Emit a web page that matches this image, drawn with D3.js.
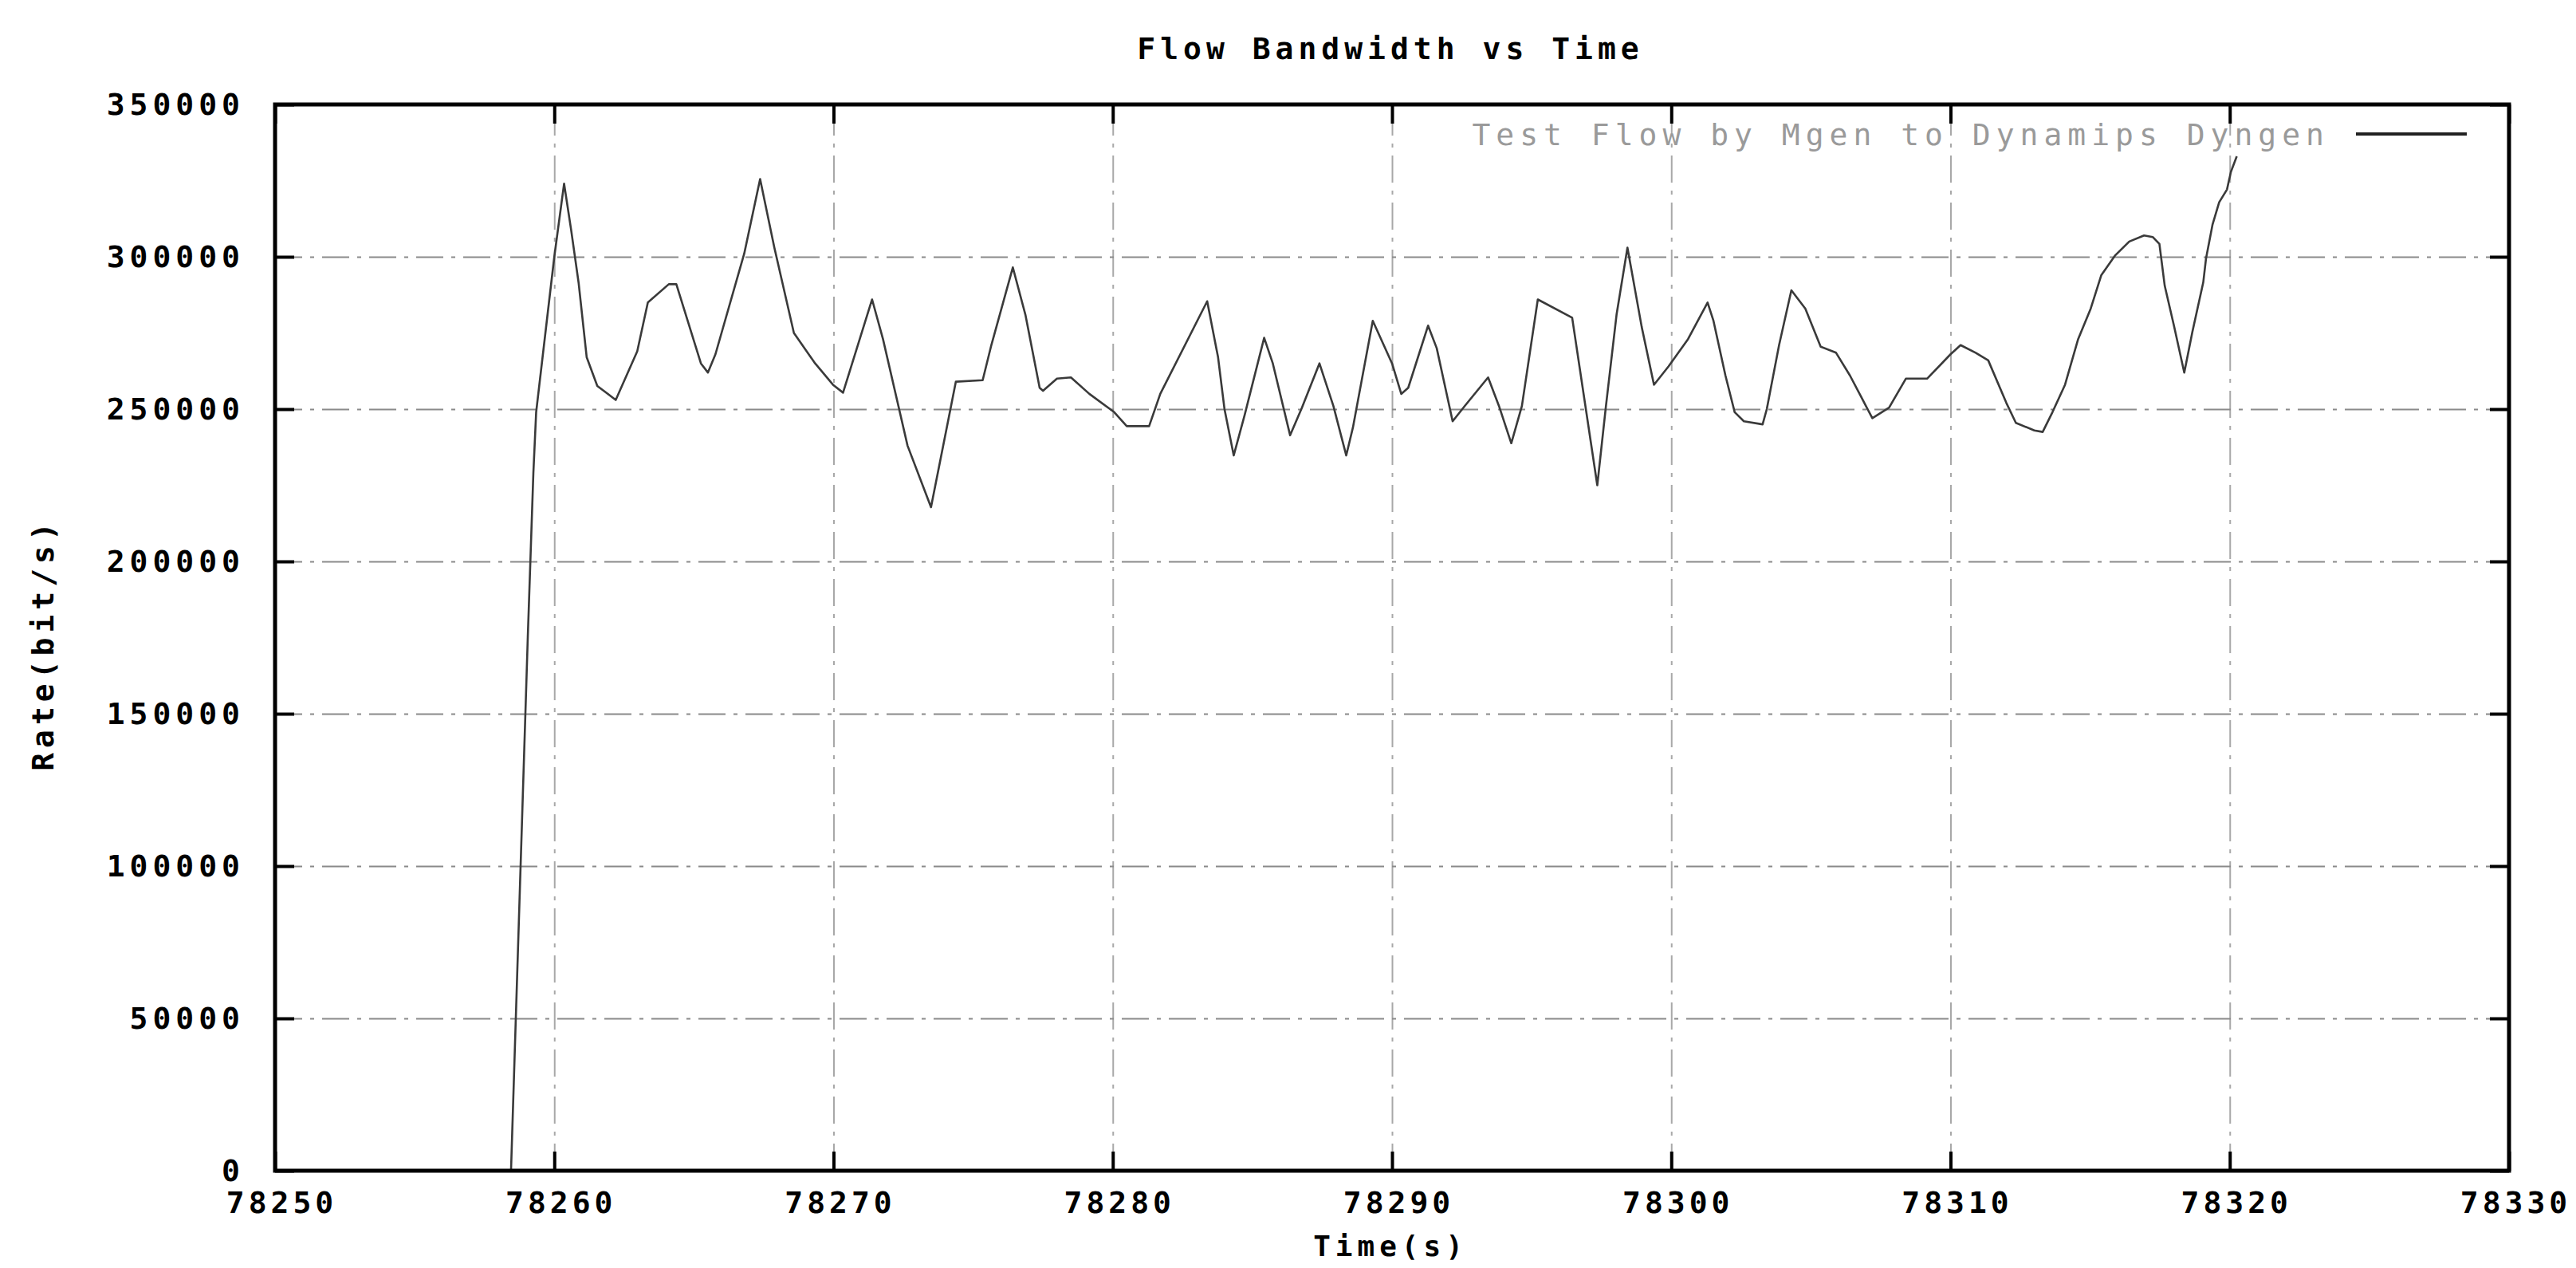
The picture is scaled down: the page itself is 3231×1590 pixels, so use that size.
<!DOCTYPE html>
<html><head><meta charset="utf-8">
<script src="https://cdn.jsdelivr.net/npm/d3@7"></script>
<style>
html,body{margin:0;padding:0;background:#fff;}
svg{display:block;background:#fff;}
</style></head><body>
<svg id="chart" width="3231" height="1590"></svg>
<script>
const title = "Flow Bandwidth vs Time";
const xLabel = "Time(s)";
const yLabel = "Rate(bit/s)";
const seriesName = "Test Flow by Mgen to Dynamips Dyngen";
const xTicks = [78250, 78260, 78270, 78280, 78290, 78300, 78310, 78320, 78330];
const yTicks = [0, 50000, 100000, 150000, 200000, 250000, 300000, 350000];
const times = [
  78258.45, 78259.05, 78259.25, 78259.35, 78259.77, 78260.0, 78260.35, 78260.6, 78260.87, 78261.16,
  78261.54, 78262.2, 78262.97, 78263.35, 78264.1, 78264.37, 78265.25, 78265.5, 78265.77, 78266.8,
  78267.37, 78267.88, 78268.58, 78269.34, 78269.98, 78270.34, 78271.38, 78271.77, 78272.65, 78273.49,
  78274.38, 78275.34, 78275.65, 78276.42, 78276.87, 78277.38, 78277.5, 78278.0, 78278.5, 78279.16,
  78280.05, 78280.5, 78281.3, 78281.7, 78283.38, 78283.77, 78284.0, 78284.33, 78284.72, 78285.42,
  78285.73, 78286.35, 78286.77, 78287.4, 78287.9, 78288.36, 78288.6, 78289.31, 78290.0, 78290.33,
  78290.58, 78291.29, 78291.6, 78292.17, 78292.6, 78293.44, 78293.83, 78294.27, 78294.65, 78295.22,
  78296.45, 78297.35, 78297.66, 78298.04, 78298.43, 78298.94, 78299.38, 78299.9, 78300.6, 78301.3,
  78301.51, 78301.94, 78302.27, 78302.6, 78303.27, 78303.42, 78303.86, 78304.3, 78304.8, 78305.35,
  78305.9, 78306.4, 78306.8, 78307.2, 78307.8, 78308.4, 78309.16, 78310.0, 78310.36, 78310.9,
  78311.35, 78312.0, 78312.34, 78313.0, 78313.3, 78313.65, 78314.1, 78314.57, 78315.02, 78315.4,
  78315.9, 78316.4, 78316.93, 78317.24, 78317.48, 78317.67, 78318.0, 78318.37, 78318.66, 78319.05,
  78319.15, 78319.38, 78319.62, 78319.9, 78320.04, 78320.25
];
const rates = [
  0, 175000, 229000, 249000, 282000, 300000, 324000, 309000, 291500, 267000,
  257600, 253000, 269000, 285000, 291000, 291000, 265000, 262000, 268000, 301000,
  325500, 303000, 275000, 265000, 258000, 255400, 286000, 273000, 238000, 217800,
  259000, 259500, 271000, 296500, 281000, 257000, 256000, 260000, 260400, 255000,
  249000, 244400, 244400, 255000, 285400, 267000, 250000, 234800, 248000, 273400,
  265000, 241400, 250400, 265000, 251000, 234800, 244000, 279000, 265000, 255000,
  257000, 277400, 270000, 246000, 251000, 260400, 251000, 238800, 251000, 286000,
  280000, 225000, 251000, 281000, 303000, 277000, 258000, 264000, 273000, 285000,
  279000, 261000, 249000, 246000, 245000, 250000, 271000, 289000, 283000, 270500,
  268500, 261000, 254000, 247000, 250500, 260000, 260000, 268000, 271000, 268500,
  266000, 252000, 245500, 243000, 242500, 249000, 258000, 273000, 283000, 294000,
  300500, 305000, 307000, 306500, 304200, 290500, 277400, 262000, 275300, 291600,
  299500, 310500, 317900, 322100, 327900, 333000
];

const FONT = '"DejaVu Sans Mono","Liberation Mono",monospace';
const plot = {left: 345, right: 3147, top: 131, bottom: 1468};
const svg = d3.select("#chart");

const x = d3.scaleLinear().domain([xTicks[0], xTicks[xTicks.length - 1]]).range([plot.left, plot.right]);
const y = d3.scaleLinear().domain([yTicks[0], yTicks[yTicks.length - 1]]).range([plot.bottom, plot.top]);
const ph = plot.bottom - plot.top, pw = plot.right - plot.left;

// grid
const gridStyle = g => {
  g.select(".domain").remove();
  g.selectAll("line").attr("stroke", "#8a8a8a").attr("stroke-width", 2)
    .attr("stroke-dasharray", "34,10,5,10");
};
svg.append("g").attr("transform", `translate(0,${plot.bottom})`)
  .call(d3.axisBottom(x).tickValues(xTicks.slice(1, -1)).tickSize(-ph).tickFormat(""))
  .call(gridStyle).selectAll("line").attr("stroke", "#a8a8a8");
svg.append("g").attr("transform", `translate(${plot.left},0)`)
  .call(d3.axisLeft(y).tickValues(yTicks.slice(1, -1)).tickSize(-pw).tickFormat(""))
  .call(gridStyle);

// data line
const line = d3.line().x(d => x(d[0])).y(d => y(d[1]));
svg.append("path").datum(d3.zip(times, rates))
  .attr("d", line).attr("fill", "none").attr("stroke", "#3a3a3a")
  .attr("stroke-width", 2.6).attr("stroke-linejoin", "round");

// axes with inward ticks
const axisStyle = (g, withText) => {
  g.select(".domain").remove();
  g.selectAll(".tick line").attr("stroke", "#000").attr("stroke-width", 4);
  g.attr("font-family", FONT).attr("font-size", 38).attr("font-weight", "bold");
  g.selectAll(".tick text").attr("fill", "#000").style("letter-spacing", "6px");
};
svg.append("g").attr("transform", `translate(0,${plot.bottom})`)
  .call(d3.axisBottom(x).tickValues(xTicks).tickSize(-24).tickPadding(26).tickFormat(d3.format("d")))
  .call(axisStyle).selectAll(".tick text").attr("dx", 8).style("letter-spacing", "5px");
svg.append("g").attr("transform", `translate(0,${plot.top})`)
  .call(d3.axisTop(x).tickValues(xTicks).tickSize(-24).tickFormat(""))
  .call(axisStyle);
svg.append("g").attr("transform", `translate(${plot.left},0)`)
  .call(d3.axisLeft(y).tickValues(yTicks).tickSize(-24).tickPadding(38).tickFormat(d3.format("d")))
  .call(axisStyle);
svg.append("g").attr("transform", `translate(${plot.right},0)`)
  .call(d3.axisRight(y).tickValues(yTicks).tickSize(-24).tickFormat(""))
  .call(axisStyle);

// border
svg.append("rect").attr("x", plot.left).attr("y", plot.top).attr("width", pw).attr("height", ph)
  .attr("fill", "none").attr("stroke", "#000").attr("stroke-width", 5);

// title and labels
const txt = (s, xx, yy, opts = {}) => svg.append("text").text(s)
  .attr("x", xx).attr("y", yy).attr("text-anchor", opts.anchor || "middle")
  .attr("dominant-baseline", "central").attr("font-family", FONT)
  .attr("font-size", opts.size || 38).attr("font-weight", opts.weight || "bold")
  .attr("fill", opts.fill || "#000").style("letter-spacing", (opts.ls || 6) + "px")
  .attr("transform", opts.rotate ? `rotate(-90,${xx},${yy})` : null);
txt(title, 1744, 61);
txt(xLabel, 1744, 1562, {size: 36});
txt(yLabel, 54, 808, {rotate: true});

// legend
txt(seriesName, 2922, 169, {anchor: "end", weight: "normal", fill: "#9a9a9a", ls: 7});
svg.append("line").attr("x1", 2955).attr("x2", 3094).attr("y1", 168).attr("y2", 168)
  .attr("stroke", "#222").attr("stroke-width", 4);
</script>
</body></html>
